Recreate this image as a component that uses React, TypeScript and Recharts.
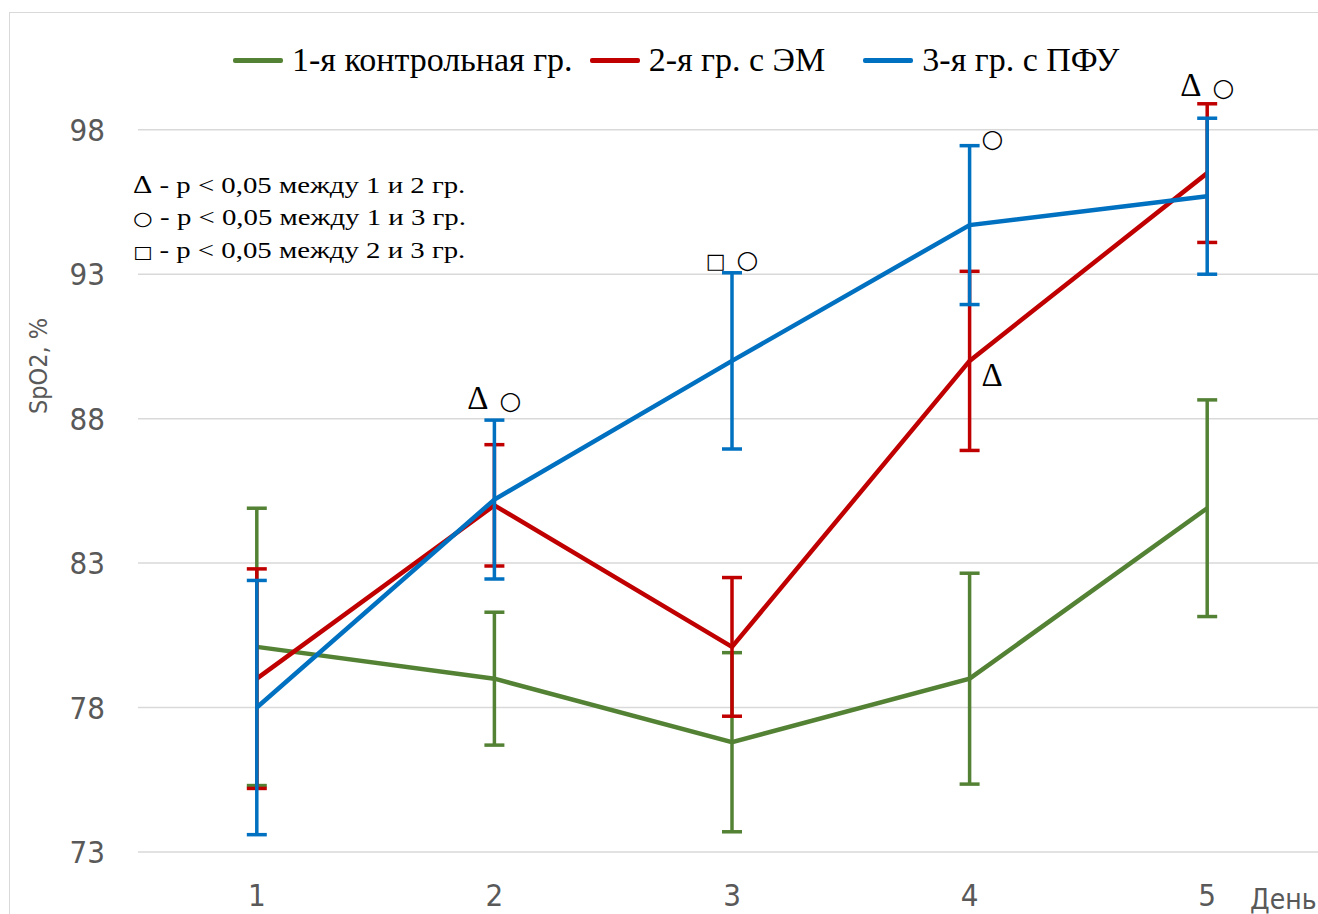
import React from 'react';
import { LineChart, Line, XAxis, YAxis, CartesianGrid, ErrorBar, ReferenceDot } from 'recharts';

const days = ['1', '2', '3', '4', '5'];
const group1Mean = [80.1, 79.0, 76.8, 79.0, 84.9];
const group1Err = [4.8, 2.3, 3.1, 3.65, 3.75];
const group2Mean = [79.0, 85.0, 80.1, 90.0, 96.5];
const group2Err = [3.8, 2.1, 2.4, 3.1, 2.4];
const group3Mean = [78.0, 85.2, 90.0, 94.7, 95.7];
const group3Err = [4.4, 2.75, 3.05, 2.75, 2.7];
const yTicks = [73, 78, 83, 88, 93, 98];
const seriesNames = ['1-я контрольная гр.', '2-я гр. с ЭМ', '3-я гр. с ПФУ'];
const seriesColors = ['#548235', '#C00000', '#0070C0'];
const noteLines = [
  { mark: 'Δ', text: ' - р < 0,05 между 1 и 2 гр.' },
  { mark: '○', text: ' - р < 0,05 между 1 и 3 гр.' },
  { mark: '□', text: ' - р < 0,05 между 2 и 3 гр.' },
];
const annotations = [
  { day: '2', value: 88.33, marks: ['Δ', '○'], side: 'center' },
  { day: '3', value: 93.21, marks: ['□', '○'], side: 'center' },
  { day: '4', value: 97.39, marks: ['○'], side: 'right' },
  { day: '4', value: 89.12, marks: ['Δ'], side: 'right' },
  { day: '5', value: 99.16, marks: ['Δ', '○'], side: 'center' },
];

const data = days.map((d, i) => ({
  day: d,
  g1: group1Mean[i],
  g1e: group1Err[i],
  g2: group2Mean[i],
  g2e: group2Err[i],
  g3: group3Mean[i],
  g3e: group3Err[i],
}));

const axisFont = "'Liberation Sans Narrow', 'DejaVu Sans Condensed', 'Liberation Sans', sans-serif";
const serifFont = "'Liberation Serif', 'Times New Roman', serif";
const symFont = "'DejaVu Sans', sans-serif";
const legendGaps = [0, 17, 38];

const markStyle = (m: string) =>
  m === 'Δ'
    ? { fontFamily: serifFont, fontSize: 33 }
    : { fontFamily: symFont, fontSize: m === '○' ? 25 : 21 };

const AnnotationLabel = (props: any) => {
  const { viewBox, marks, side } = props;
  if (!viewBox) return null;
  const x = viewBox.x + (viewBox.width || 0) / 2;
  const y = viewBox.y + (viewBox.height || 0) / 2;
  return (
    <text x={side === 'right' ? x + 12 : x} y={y} textAnchor={side === 'right' ? 'start' : 'middle'} fill="#000">
      {marks.map((m: string, i: number) => (
        <tspan key={i} dx={i > 0 ? 11 : 0} style={markStyle(m)}>
          {m}
        </tspan>
      ))}
    </text>
  );
};

const YLabel = (props: any) => {
  const { viewBox } = props;
  if (!viewBox) return null;
  const x = viewBox.x + 28;
  const y = 353;
  return (
    <text
      x={x}
      y={y}
      transform={`rotate(-90, ${x}, ${y})`}
      textAnchor="middle"
      dominantBaseline="central"
      fill="#595959"
      style={{ fontFamily: axisFont, fontSize: 25 }}
    >
      SpO2, %
    </text>
  );
};

export default function App() {
  const keys = ['g1', 'g2', 'g3'];
  return (
    <div
      style={{
        position: 'absolute',
        left: 9,
        top: 12,
        width: 1309,
        height: 902,
        overflow: 'hidden',
        borderLeft: '1px solid #d9d9d9',
        borderTop: '1px solid #d9d9d9',
        background: '#fff',
      }}
    >
      <LineChart width={1340} height={920} data={data} margin={{ top: 59, right: 24, bottom: 31, left: 0 }}>
        <CartesianGrid vertical={false} horizontalValues={yTicks} stroke="#d9d9d9" strokeWidth={1.5} />
        <XAxis
          dataKey="day"
          scale="band"
          axisLine={false}
          tickLine={false}
          tickSize={0}
          tickMargin={32}
          height={50}
          interval={0}
          tick={{ fill: '#595959', fontSize: 31, fontFamily: axisFont }}
        />
        <YAxis
          type="number"
          domain={[73, 100]}
          ticks={yTicks}
          interval={0}
          width={128}
          axisLine={false}
          tickLine={false}
          tickSize={0}
          tickMargin={33}
          tick={{ fill: '#595959', fontSize: 31, fontFamily: axisFont }}
          label={<YLabel />}
        />
        {keys.map((k, i) => (
          <Line
            key={k}
            type="linear"
            dataKey={k}
            name={seriesNames[i]}
            stroke={seriesColors[i]}
            strokeWidth={4.5}
            dot={false}
            activeDot={false}
            isAnimationActive={false}
          >
            <ErrorBar dataKey={`${k}e`} width={10} strokeWidth={3.5} stroke={seriesColors[i]} direction="y" />
          </Line>
        ))}
        {annotations.map((a, i) => (
          <ReferenceDot
            key={i}
            x={a.day}
            y={a.value}
            r={0}
            fill="none"
            stroke="none"
            label={<AnnotationLabel marks={a.marks} side={a.side} />}
          />
        ))}
      </LineChart>

      <div
        style={{
          position: 'absolute',
          left: 223,
          top: 27,
          height: 40,
          display: 'flex',
          alignItems: 'center',
          fontFamily: serifFont,
          fontSize: 34,
          color: '#000',
          whiteSpace: 'nowrap',
        }}
      >
        {seriesNames.map((n, i) => (
          <div key={n} style={{ display: 'flex', alignItems: 'center', marginLeft: legendGaps[i] }}>
            <div style={{ width: 50, height: 5, background: seriesColors[i], marginRight: 9, borderRadius: 2 }} />
            <span>{n}</span>
          </div>
        ))}
      </div>

      <div
        style={{
          position: 'absolute',
          left: 123,
          top: 156,
          fontFamily: serifFont,
          fontSize: 24,
          lineHeight: '32px',
          color: '#000',
          whiteSpace: 'nowrap',
          transform: 'scaleX(1.2)',
          transformOrigin: 'left top',
        }}
      >
        {noteLines.map((l, i) => (
          <div key={i}>
            <span style={{ fontFamily: l.mark === 'Δ' ? serifFont : symFont, fontSize: l.mark === 'Δ' ? 25 : l.mark === '○' ? 19 : 17 }}>
              {l.mark}
            </span>
            {l.text}
          </div>
        ))}
      </div>

      <div
        style={{
          position: 'absolute',
          left: 1240,
          top: 874,
          fontFamily: axisFont,
          fontSize: 28,
          lineHeight: '26px',
          color: '#595959',
          whiteSpace: 'nowrap',
        }}
      >
        День
      </div>
    </div>
  );
}
